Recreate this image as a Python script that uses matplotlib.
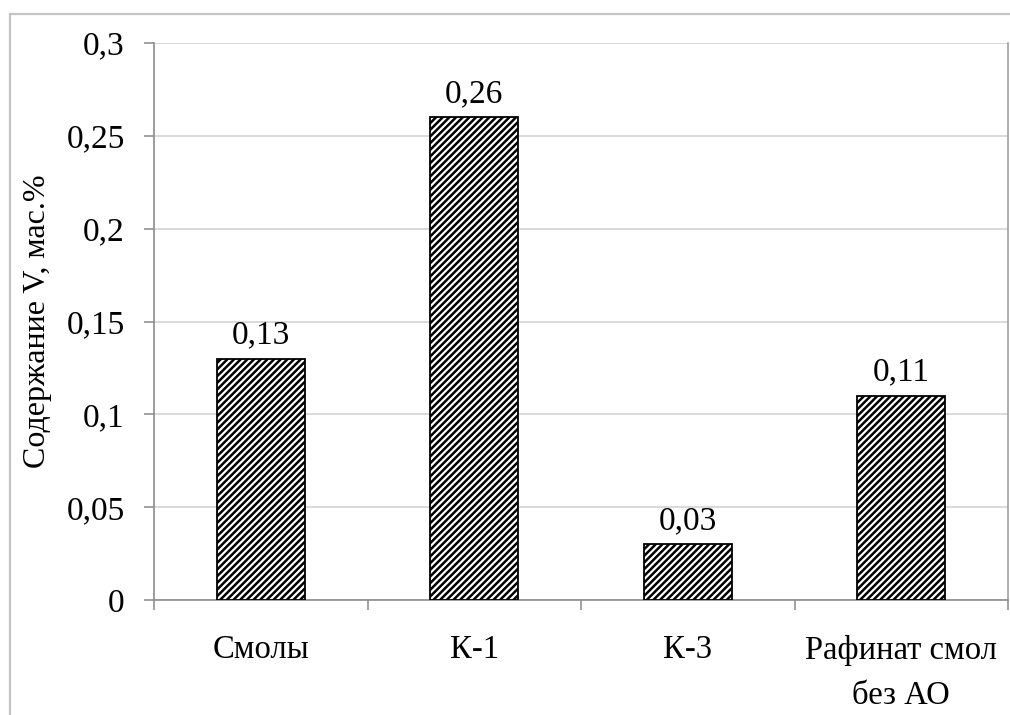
import numpy as np
import matplotlib
matplotlib.use("Agg")
import matplotlib.pyplot as plt
from matplotlib.patches import Rectangle
from matplotlib.ticker import FuncFormatter, FixedLocator

categories = ['Смолы', 'К-1', 'К-3', 'Рафинат смол\nбез АО']
values = [0.13, 0.26, 0.03, 0.11]
value_labels = ['0,13', '0,26', '0,03', '0,11']
yticks = [0, 0.05, 0.1, 0.15, 0.2, 0.25, 0.3]

plt.rcParams['font.family'] = ['Liberation Serif', 'DejaVu Serif']
plt.rcParams['hatch.linewidth'] = 1.8
plt.rcParams['hatch.color'] = 'black'

fig = plt.figure(figsize=(10.1, 7.15), dpi=100)
ax = fig.add_axes([154 / 1010, 1 - 600 / 715, (1008 - 154) / 1010, (600 - 43) / 715])

# outer chart border (extends past the picture edge)
fig.patches.append(Rectangle((10 / 1010, -0.1), 1.2, 1 - 14 / 715 + 0.1,
                             transform=fig.transFigure, fill=False,
                             edgecolor='#c4c4c4', linewidth=1.6, zorder=0))

x = np.arange(len(categories))
bars = ax.bar(x, values, width=0.41, color='white', edgecolor='black',
              linewidth=1.3, hatch='/////', zorder=3)

for bar, lab in zip(bars, value_labels):
    ax.annotate(lab, (bar.get_x() + bar.get_width() / 2, bar.get_height()),
                xytext=(0, 6), textcoords='offset points',
                ha='center', va='bottom', fontsize=24)

ax.set_xlim(-0.5, len(categories) - 0.5)
ax.set_ylim(0, 0.3)
ax.set_yticks(yticks)
ax.yaxis.set_major_formatter(FuncFormatter(lambda v, p: f"{v:g}".replace('.', ',')))
ax.grid(axis='y', color='#d0d0d0', linewidth=1.1, zorder=0)

ax.set_xticks(x)
ax.set_xticklabels(categories, fontsize=23.5, linespacing=1.65)
ax.xaxis.set_minor_locator(FixedLocator(np.arange(-0.5, len(categories), 1.0)))
ax.tick_params(axis='x', which='major', length=0, pad=25)
ax.tick_params(axis='x', which='minor', length=7, color='#888888', width=1.1)
ax.tick_params(axis='y', length=7, color='#888888', width=1.1, pad=14, labelsize=24)

for side in ['left', 'bottom', 'right']:
    ax.spines[side].set_color('#8c8c8c')
    ax.spines[side].set_linewidth(1.2)
ax.spines['top'].set_visible(False)
ax.spines['right'].set_color('#a0a0a0')

ax.set_ylabel('Содержание V, мас.%', fontsize=23)
ax.yaxis.set_label_coords(-0.12, 0.5)

fig.savefig('out.png', dpi=100)
